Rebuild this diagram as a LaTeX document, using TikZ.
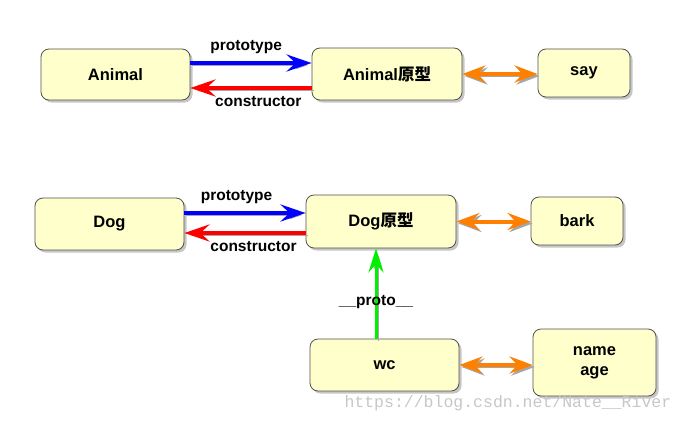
\documentclass[tikz,border=0pt]{standalone}
\usepackage{fontspec}
\setmainfont{Liberation Sans}
\newfontfamily\cjk{Noto Sans CJK SC}
\newfontfamily\wmfont{Liberation Mono}
\usetikzlibrary{arrows.meta, shadows}
\definecolor{boxfill}{RGB}{255,255,204}
\definecolor{boxline}{RGB}{80,80,80}
\definecolor{linkorange}{RGB}{255,128,0}
\definecolor{protogreen}{RGB}{0,240,0}

\begin{document}
\begin{tikzpicture}[x=1pt, y=-1pt,
	objbox/.style={align=center, draw=boxline, fill=boxfill, rounded corners=8pt, line width=0.8pt,
		drop shadow={shadow xshift=2.5pt, shadow yshift=-2.5pt, opacity=0.45},
		font=\fontsize{16.5}{20}\selectfont\bfseries},
	lbl/.style={text=black, font=\fontsize{15.5}{18}\selectfont\bfseries},
	arrshadow/.style={preaction={draw=black!35, transform canvas={shift={(2pt,-2pt)}}}},
	protoarr/.style={blue, line width=4pt, -{Stealth[length=25pt, width=17pt, inset=9pt]}, arrshadow},
	ctorarr/.style={red, line width=4pt, -{Stealth[length=25pt, width=17pt, inset=9pt]}, arrshadow},
	linkarr/.style={linkorange, line width=4pt, {Stealth[length=23pt, width=17pt, inset=8pt]}-{Stealth[length=23pt, width=17pt, inset=8pt]}, arrshadow},
	chainarr/.style={protogreen, line width=3pt, -{Stealth[length=24pt, width=15pt, inset=8pt]}, arrshadow}]
	\useasboundingbox (0,0) rectangle (684,423);
	% first row
	\node[objbox, minimum width=149pt, minimum height=51pt] at (115.5, 74.5) (animal) {Animal};
	\node[objbox, minimum width=150pt, minimum height=52pt] at (387, 74) (animal-proto) {Animal{\cjk\bfseries 原型}};
	\node[objbox, minimum width=92pt, minimum height=48pt] at (584, 73) (say) {say};
	% second row
	\node[objbox, minimum width=149pt, minimum height=52pt] at (109.5, 224) (dog) {Dog};
	\node[objbox, minimum width=150pt, minimum height=53pt] at (381, 221.5) (dog-proto) {Dog{\cjk\bfseries 原型}};
	\node[objbox, minimum width=92pt, minimum height=48pt] at (577, 221) (bark) {bark};
	\node[objbox, minimum width=149pt, minimum height=52pt] at (384.5, 365) (wc) {wc};
	\node[objbox, minimum width=123pt, minimum height=67pt] at (594.5, 362.5) (name-age) {name\\age};

	\draw[protoarr] ([yshift=11.5pt]animal.east) -- ([yshift=11.5pt]animal.east -| animal-proto.west)
		node[lbl, pos=0.46, above=4pt] {prototype};
	\draw[ctorarr] ([yshift=-14pt]animal-proto.west) -- ([yshift=-14pt]animal-proto.west -| animal.east)
		node[lbl, pos=0.44, below=3pt] {constructor};
	\draw[linkarr] (animal-proto.east) -- (animal-proto.east -| say.west);

	\draw[protoarr] ([yshift=11pt]dog.east) -- ([yshift=11pt]dog.east -| dog-proto.west)
		node[lbl, pos=0.43, above=4pt] {prototype};
	\draw[ctorarr] ([yshift=-11.5pt]dog-proto.west) -- ([yshift=-11.5pt]dog-proto.west -| dog.east)
		node[lbl, pos=0.43, below=3pt] {constructor};
	\draw[linkarr] (dog-proto.east) -- (dog-proto.east -| bark.west);

	\draw[chainarr] ([xshift=-8.5pt]wc.north) -- ([xshift=-8.5pt]wc.north |- dog-proto.south)
		node[lbl, pos=0.4] {\_\_proto\_\_};
	\draw[linkarr] (wc.east) -- (wc.east -| name-age.west);

	\node[text=black!22, font=\wmfont\fontsize{16.5}{18}\selectfont, anchor=west] at (341, 403) (mark) {https://blog.csdn.net/Nate\_\_River};
\end{tikzpicture}
\end{document}
